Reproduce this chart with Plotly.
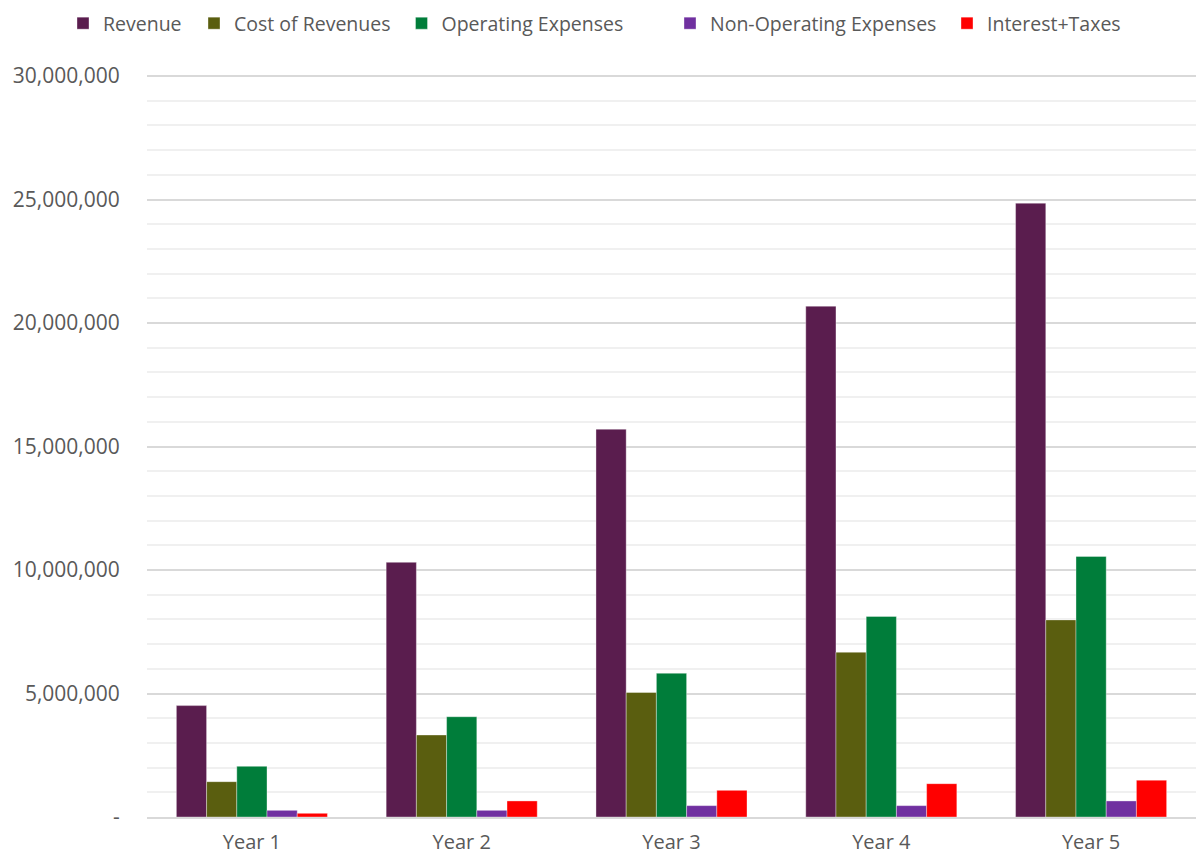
import plotly.graph_objects as go

years = ["Year 1", "Year 2", "Year 3", "Year 4", "Year 5"]
revenue = [4510000, 10310000, 15700000, 20680000, 24850000]
cost_of_revenues = [1430000, 3320000, 5040000, 6670000, 7980000]
operating_expenses = [2050000, 4060000, 5820000, 8120000, 10550000]
non_operating_expenses = [270000, 270000, 460000, 460000, 650000]
interest_taxes = [150000, 650000, 1080000, 1350000, 1490000]

series_names = ["Revenue", "Cost of Revenues", "Operating Expenses",
                "Non-Operating Expenses", "Interest+Taxes"]
series_values = [revenue, cost_of_revenues, operating_expenses,
                 non_operating_expenses, interest_taxes]
series_colors = ["#5A1D4E", "#5A5E0F", "#007D3A", "#7030A0", "#FF0000"]

tick_values = [0, 5000000, 10000000, 15000000, 20000000, 25000000, 30000000]
tick_text = ["-" if v == 0 else f"{v:,}" for v in tick_values]

FONT = "Open Sans"
TEXT_COLOR = "#595959"
FONT_SIZE = 21
W, H = 1196, 856

# one legend per series so each key sits at its own spot along the top row
legend_marker_x = [82, 213, 420.5, 689, 966]
SYMBOL_OFFSET = 19  # distance from a legend's left edge to its symbol centre

fig = go.Figure()
layout_legends = {}
for i, (name, values, color) in enumerate(zip(series_names, series_values, series_colors)):
    key = "legend" if i == 0 else f"legend{i + 1}"
    fig.add_trace(go.Bar(
        x=years, y=values, name=name, legend=key,
        marker=dict(color=color, line=dict(color="rgba(255,255,255,0.6)", width=0.6)),
    ))
    layout_legends[key] = dict(
        xref="container", yref="container",
        x=(legend_marker_x[i] - SYMBOL_OFFSET) / W, xanchor="left",
        y=1 - 23.5 / H, yanchor="middle",
        orientation="h", bgcolor="rgba(0,0,0,0)",
        font=dict(family=FONT, size=19.5, color=TEXT_COLOR),
        itemwidth=30,
    )

# y range padded a little above 30M so the top grid line is drawn
y_top = 30000000 * 746 / 741

fig.update_layout(
    width=W, height=H,
    margin=dict(l=147, r=0, t=71, b=39, autoexpand=False),
    plot_bgcolor="white", paper_bgcolor="white",
    barmode="group", bargap=0.28, bargroupgap=0,
    font=dict(family=FONT, size=FONT_SIZE, color=TEXT_COLOR),
    showlegend=True,
    **layout_legends,
)

fig.update_xaxes(
    automargin=False,
    showline=True, linecolor="#D9D9D9", linewidth=1.5,
    ticks="outside", ticklen=6, tickcolor="rgba(0,0,0,0)",
    tickfont=dict(family=FONT, size=20, color=TEXT_COLOR),
    showgrid=False,
)

fig.update_yaxes(
    automargin=False,
    range=[0, y_top],
    tickvals=tick_values, ticktext=tick_text,
    tickfont=dict(family=FONT, size=FONT_SIZE, color=TEXT_COLOR),
    showgrid=True, gridcolor="#D9D9D9", gridwidth=1.5,
    ticks="outside", ticklen=22, tickcolor="rgba(0,0,0,0)",
    minor=dict(dtick=1000000, showgrid=True, gridcolor="#F0F0F0", gridwidth=1.5),
    zeroline=False, showline=False,
)

fig.write_html("out.html")
